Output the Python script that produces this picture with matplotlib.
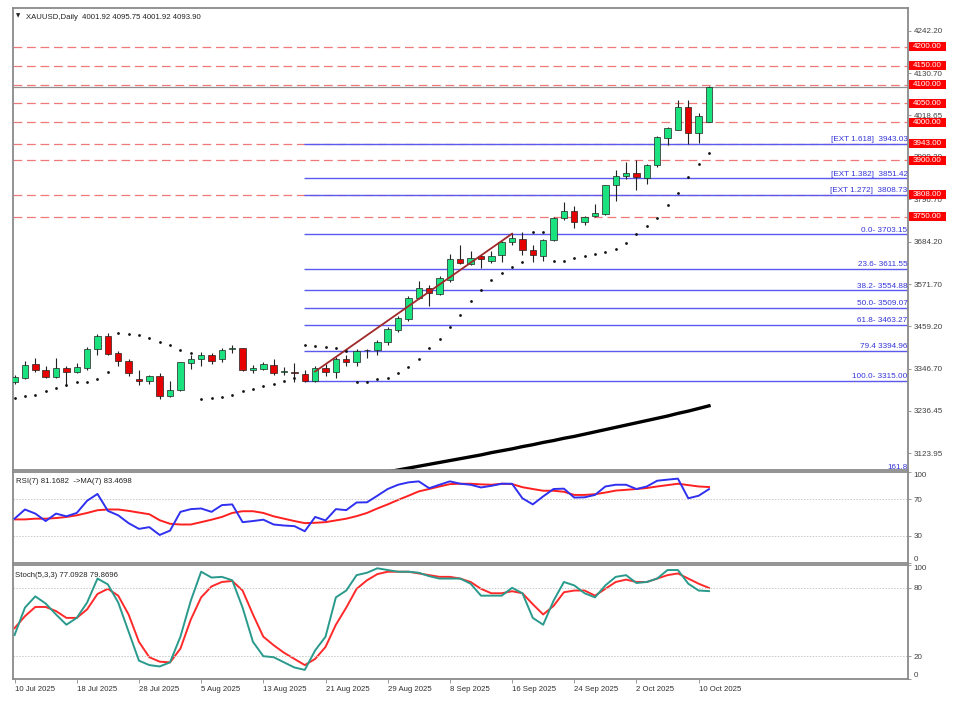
import matplotlib
matplotlib.use('Agg')
import matplotlib.pyplot as plt
import matplotlib.transforms as mtransforms
from matplotlib.patches import Rectangle
import pandas as pd

plt.rcParams['font.family'] = ['Liberation Sans', 'DejaVu Sans']

# --- data ---
dates = pd.bdate_range('2025-07-10', '2025-10-13')

opens = [3313, 3322, 3360, 3344, 3326, 3348, 3338, 3350, 3399, 3434,
         3388, 3369, 3321, 3316, 3328, 3274, 3290, 3363, 3374, 3385,
         3372, 3399, 3401, 3344, 3347, 3357, 3338, 3337, 3334, 3316,
         3350, 3338, 3374, 3365, 3396, 3397, 3417, 3450, 3479, 3534,
         3562, 3546, 3583, 3637, 3626, 3646, 3633, 3648, 3682, 3692,
         3663, 3646, 3688, 3747, 3766, 3737, 3752, 3758, 3833, 3859,
         3866, 3853, 3886, 3958, 3981, 4040, 3973, 4001.92]
highs = [3330, 3368, 3376, 3354, 3376, 3354, 3363, 3405, 3439, 3441,
         3393, 3374, 3345, 3332, 3337, 3316, 3366, 3383, 3392, 3390,
         3403, 3409, 3403, 3356, 3365, 3374, 3352, 3363, 3344, 3354,
         3359, 3379, 3385, 3399, 3399, 3424, 3457, 3486, 3539, 3581,
         3570, 3594, 3650, 3676, 3658, 3652, 3658, 3685, 3706, 3710,
         3676, 3692, 3750, 3790, 3779, 3752, 3783, 3835, 3873, 3894,
         3901, 3890, 3965, 3989, 4058, 4058, 4026, 4095.75]
lows = [3308, 3320, 3338, 3322, 3322, 3301, 3335, 3345, 3385, 3385,
        3354, 3329, 3303, 3308, 3268, 3272, 3288, 3347, 3354, 3360,
        3365, 3390, 3341, 3335, 3345, 3330, 3332, 3312, 3313, 3313,
        3328, 3323, 3354, 3354, 3377, 3385, 3409, 3445, 3474, 3532,
        3513, 3543, 3578, 3625, 3621, 3614, 3628, 3630, 3676, 3649,
        3630, 3634, 3685, 3741, 3719, 3727, 3748, 3755, 3792, 3851,
        3820, 3838, 3883, 3941, 3979, 3942, 3945, 4001.92]
closes = [3326, 3357, 3344, 3326, 3348, 3339, 3352, 3399, 3434, 3387,
          3369, 3337, 3316, 3328, 3274, 3292, 3365, 3374, 3385, 3368,
          3397, 3401, 3344, 3350, 3359, 3337, 3339, 3336, 3316, 3348,
          3338, 3374, 3365, 3394, 3398, 3418, 3452, 3481, 3534, 3562,
          3548, 3588, 3637, 3628, 3641, 3637, 3646, 3682, 3694, 3661,
          3648, 3688, 3747, 3765, 3737, 3749, 3761, 3834, 3859, 3866,
          3854, 3886, 3961, 3984, 4040, 3973, 4017, 4093.90]

sar = [3270, 3274, 3279, 3289, 3297, 3304, 3312, 3313, 3320, 3338,
       3441, 3440, 3436, 3429, 3419, 3409, 3397, 3388, 3268, 3270,
       3273, 3279, 3288, 3294, 3301, 3307, 3314, 3323, 3411, 3408,
       3406, 3401, 3394, 3312, 3312, 3319, 3323, 3335, 3352, 3374,
       3401, 3427, 3457, 3490, 3528, 3557, 3583, 3601, 3618, 3630,
       3710, 3710, 3632, 3633, 3641, 3646, 3650, 3656, 3664, 3681,
       3703, 3725, 3746, 3780, 3812, 3856, 3891, 3920]

ma_first_bar = 36
ma_long = [3074, 3079, 3084, 3089, 3094, 3099, 3104, 3109, 3114, 3119,
           3125, 3130, 3135, 3141, 3146, 3152, 3157, 3163, 3168, 3174,
           3180, 3186, 3192, 3198, 3204, 3210, 3216, 3222, 3229, 3235,
           3242, 3249]

rsi = [48.7, 58.8, 54.3, 46.1, 54.3, 51.3, 55.0, 68.4, 75.9, 57.3,
       52.4, 43.8, 37.5, 39.4, 30.8, 35.6, 56.2, 59.2, 59.9, 56.2,
       63.6, 64.4, 44.9, 46.1, 47.6, 42.3, 41.2, 40.5, 34.9, 50.6,
       46.8, 59.2, 58.1, 66.5, 66.7, 73.9, 81.3, 86.0, 88.6, 89.7,
       82.2, 86.0, 89.7, 87.1, 86.0, 83.0, 84.8, 87.1, 87.1, 71.1,
       64.4, 73.2, 81.3, 81.7, 71.9, 72.2, 74.8, 84.1, 86.0, 86.0,
       81.3, 84.1, 90.4, 91.6, 92.7, 71.1, 73.9, 81.17]
rsi_ma = [47.9, 47.9, 48.7, 48.7, 49.4, 50.6, 52.4, 55.0, 58.0, 58.8,
          58.8, 57.3, 55.4, 53.6, 47.0, 43.1, 42.3, 42.3, 44.9, 47.6,
          50.6, 55.0, 56.9, 56.9, 55.0, 51.3, 48.7, 46.1, 43.8, 44.2,
          44.9, 46.8, 48.7, 51.5, 55.0, 59.9, 64.4, 69.3, 73.9, 78.7,
          81.3, 84.1, 86.7, 87.1, 87.1, 86.4, 86.0, 87.1, 86.7, 83.3,
          81.3, 79.4, 79.4, 78.3, 74.8, 74.8, 75.6, 77.4, 79.6, 80.4,
          81.3, 82.4, 84.1, 85.6, 87.1, 85.6, 84.1, 83.47]

stoch_k = [38.6, 62.6, 72.5, 66.2, 56.6, 47.6, 53.6, 67.1, 88.1, 83.0,
           67.1, 41.6, 16.1, 12.2, 11.0, 14.6, 37.1, 68.6, 94.1, 89.0,
           89.6, 86.6, 62.6, 32.6, 20.0, 19.1, 14.6, 10.1, 8.0, 25.1,
           37.1, 71.6, 77.6, 91.1, 93.2, 97.1, 95.6, 94.1, 94.1, 93.2,
           90.2, 88.1, 88.1, 88.1, 83.6, 73.1, 73.1, 73.1, 80.0, 75.2,
           53.6, 47.6, 68.6, 85.1, 82.1, 75.2, 71.6, 82.1, 89.6, 91.1,
           84.2, 85.1, 88.1, 95.6, 95.6, 83.6, 77.6, 77.09]
stoch_d = [44.6, 55.1, 63.2, 63.2, 59.6, 53.6, 53.6, 61.1, 74.6, 79.1,
           73.1, 56.6, 32.6, 19.1, 15.2, 14.6, 26.6, 52.1, 71.6, 81.2,
           85.1, 86.0, 77.6, 56.6, 37.1, 29.6, 23.0, 17.6, 12.2, 17.6,
           28.1, 47.6, 62.6, 79.1, 86.6, 92.0, 94.1, 94.1, 94.1, 92.6,
           91.1, 89.6, 89.6, 88.1, 85.1, 79.1, 75.2, 75.2, 77.0, 75.2,
           65.6, 56.6, 64.1, 76.1, 77.6, 77.6, 73.1, 79.1, 85.1, 87.2,
           85.1, 85.1, 88.1, 91.1, 92.6, 88.1, 83.6, 79.87]

levels = [4200, 4150, 4100, 4050, 4000, 3943, 3900, 3808, 3750]

fib_start_bar = 28
fib_prices = [3943.03, 3851.42, 3808.73, 3703.15, 3611.55, 3554.88,
              3509.07, 3463.27, 3394.96, 3315.00, 3075.12]
fib_labels = ['[EXT 1.618]  3943.03', '[EXT 1.382]  3851.42', '[EXT 1.272]  3808.73',
              '0.0- 3703.15', '23.6- 3611.55', '38.2- 3554.88', '50.0- 3509.07',
              '61.8- 3463.27', '79.4 3394.96', '100.0- 3315.00', '161.8']

trend_bars = [29, 48]
trend_prices = [3340, 3705]

price_ticks = [3123.95, 3236.45, 3346.70, 3459.20, 3571.70, 3684.20,
               3796.70, 3909.20, 4018.65, 4130.70, 4242.20]

# --- layout (pixel boxes like the terminal window) ---
W, H = 960, 713
fig = plt.figure(figsize=(W / 100, H / 100), dpi=100)
fig.patch.set_facecolor('white')


def px_box(x0, y0, x1, y1):
    return [x0 / W, 1 - y1 / H, (x1 - x0) / W, (y1 - y0) / H]


ax = fig.add_axes(px_box(12.5, 8, 908, 470))
ax_rsi = fig.add_axes(px_box(12.5, 472, 908, 563), sharex=ax)
ax_sto = fig.add_axes(px_box(12.5, 565, 908, 679), sharex=ax)

grey = '#8a8a8a'
for a in (ax, ax_rsi, ax_sto):
    for s in a.spines.values():
        s.set_color(grey)
        s.set_linewidth(1.3)
    a.yaxis.tick_right()
    a.tick_params(axis='y', length=2.5, width=0.6, color=grey, pad=1.5,
                  labelsize=5.8, labelcolor='#404040')
    a.tick_params(axis='x', length=0, labelbottom=False)

n = len(opens)
idx = list(range(n))
ax.set_xlim(-0.2, 86.2)
ax.set_ylim(3079, 4303)

# horizontal levels
for p in levels:
    ax.axhline(p, color='#f07878', lw=0.9, ls=(0, (7, 3.8)), zorder=1)
ax.axhline(closes[-1], color='#909090', lw=0.9, zorder=1)

# fib / expansion lines
ax.hlines(fib_prices, fib_start_bar - 0.1, 86.2, color='#5a5af0', lw=1.0, zorder=1)
lab_trans = mtransforms.blended_transform_factory(ax.transAxes, ax.transData)
for p, t in zip(fib_prices, fib_labels):
    ax.text(0.9995, p + 2, t, transform=lab_trans, ha='right', va='bottom',
            fontsize=5.9, color='#3535d8', zorder=6)

# trend line and long moving average
ax.plot(trend_bars, trend_prices, color='#a02828', lw=1.3, zorder=5)
ax.plot(range(ma_first_bar, ma_first_bar + len(ma_long)), ma_long,
        color='black', lw=2.4, zorder=2)

# candles
green, red = '#19e27e', '#e60000'
body_lo = [min(o, c) for o, c in zip(opens, closes)]
body_h = [max(abs(c - o), 2.0) for o, c in zip(opens, closes)]
colors = [green if c >= o else red for o, c in zip(opens, closes)]
ax.vlines(idx, lows, highs, color='#222222', lw=0.8, zorder=3)
ax.bar(idx, body_h, bottom=body_lo, width=0.62, color=colors,
       edgecolor='#222222', linewidth=0.5, zorder=4)

# parabolic SAR
ax.scatter(idx, sar, s=4, color='#111111', zorder=5, linewidths=0)

# price scale with level boxes
ax.set_yticks(price_ticks)
ax.set_yticklabels([f'{v:.2f}' for v in price_ticks])
for p in levels:
    ax.add_patch(Rectangle((1.0012, p - 12), 0.0413, 24, transform=lab_trans,
                           facecolor='#ff0000', edgecolor='none',
                           clip_on=False, zorder=9))
    ax.text(1.0218, p, f'{p:.2f}', transform=lab_trans, ha='center', va='center',
            fontsize=5.8, color='white', zorder=10, clip_on=False)

ax.text(0.004, 0.988, '\u25bc', transform=ax.transAxes, ha='left', va='top',
        fontsize=4, color='#222222', family=['DejaVu Sans'])
ax.text(0.0155, 0.988,
        f'XAUUSD,Daily  {opens[-1]:.2f} {highs[-1]:.2f} {lows[-1]:.2f} {closes[-1]:.2f}',
        transform=ax.transAxes, ha='left', va='top', fontsize=5.6, color='#222222')

# RSI panel
ax_rsi.plot(idx, rsi, color='#3030f0', lw=1.4, zorder=3)
ax_rsi.plot(idx, rsi_ma, color='#ff2020', lw=1.4, zorder=2)
ax_rsi.set_ylim(0, 100)
for lv in (70, 30):
    ax_rsi.axhline(lv, color='#c8c8c8', lw=0.7, ls=(0, (1.5, 1.5)))
ax_rsi.set_yticks([0, 30, 70, 100])
ax_rsi.text(0.004, 0.93, 'RSI(7) 81.1682  ->MA(7) 83.4698', transform=ax_rsi.transAxes,
            ha='left', va='top', fontsize=5.6, color='#222222')

# Stochastic panel
ax_sto.plot(idx, stoch_k, color='#2a9a8c', lw=1.4, zorder=3)
ax_sto.plot(idx, stoch_d, color='#ff2a2a', lw=1.4, zorder=2)
ax_sto.set_ylim(0, 100)
for lv in (80, 20):
    ax_sto.axhline(lv, color='#c8c8c8', lw=0.7, ls=(0, (1.5, 1.5)))
ax_sto.set_yticks([0, 20, 80, 100])
ax_sto.text(0.003, 0.94, 'Stoch(5,3,3) 77.0928 79.8696', transform=ax_sto.transAxes,
            ha='left', va='top', fontsize=5.6, color='#222222')

for a in (ax_rsi, ax_sto):
    labs = a.get_yticklabels()
    labs[0].set_va('bottom')
    labs[-1].set_va('top')

# date axis
tick_pos = idx[::6]
ax_sto.set_xticks(tick_pos)
ax_sto.set_xticklabels([f'{dates[i].day} {dates[i].strftime("%b %Y")}' for i in tick_pos])
ax_sto.tick_params(axis='x', length=3, width=0.6, color=grey, labelbottom=True,
                   labelsize=5.6, labelcolor='#303030', pad=2)
for lab in ax_sto.get_xticklabels():
    lab.set_ha('left')

fig.savefig('out.png', dpi=100, facecolor='white')
